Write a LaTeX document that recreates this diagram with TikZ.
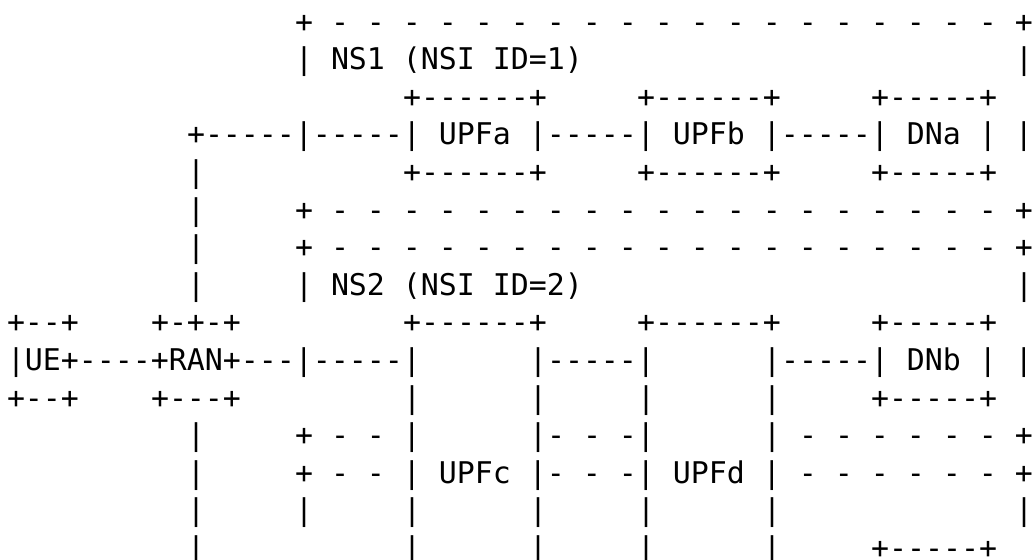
\documentclass[tikz,border=0pt]{standalone}
\usepackage{fontspec}
\setmonofont{DejaVu Sans Mono}
\frenchspacing
% one text cell = 18 units wide, one text line = 37.6 units high (1 unit = 0.5pt)
\tikzset{
  txt/.style={anchor=base west, inner sep=0pt, outer sep=0pt,
              font=\ttfamily\fontsize{14.949}{18}\selectfont, text=black}
}
% \tx{row}{column}{text}: a run of characters starting at the given cell
\newcommand\tx[3]{\node[txt] (r#1c#2) at ({7+18*#2},{32.1+37.6*(#1-1)}) {#3};}
\begin{document}
\begin{tikzpicture}[x=0.5pt,y=-0.5pt]
\fill[white] (0,0) rectangle (1034,559);
\useasboundingbox (0,0) rectangle (1034,559);

% NS1 slice
\tx{1}{16}{+ - - - - - - - - - - - - - - - - - - - +}
\tx{2}{16}{| NS1 (NSI ID=1)}
\tx{2}{56}{|}
\tx{3}{22}{+------+}
\tx{3}{35}{+------+}
\tx{3}{48}{+-----+}
\tx{4}{10}{+-----|-----| UPFa |-----| UPFb |-----| DNa | |}
\tx{5}{10}{|}
\tx{5}{22}{+------+}
\tx{5}{35}{+------+}
\tx{5}{48}{+-----+}
\tx{6}{10}{|}
\tx{6}{16}{+ - - - - - - - - - - - - - - - - - - - +}

% NS2 slice
\tx{7}{10}{|}
\tx{7}{16}{+ - - - - - - - - - - - - - - - - - - - +}
\tx{8}{10}{|}
\tx{8}{16}{| NS2 (NSI ID=2)}
\tx{8}{56}{|}
\tx{9}{0}{+--+}
\tx{9}{8}{+-+-+}
\tx{9}{22}{+------+}
\tx{9}{35}{+------+}
\tx{9}{48}{+-----+}
\tx{10}{0}{|UE+----+RAN+---|-----|}
\tx{10}{29}{|-----|}
\tx{10}{42}{|-----| DNb | |}
\tx{11}{0}{+--+}
\tx{11}{8}{+---+}
\tx{11}{22}{|}
\tx{11}{29}{|}
\tx{11}{35}{|}
\tx{11}{42}{|}
\tx{11}{48}{+-----+}
\tx{12}{10}{|}
\tx{12}{16}{+ - - |}
\tx{12}{29}{|- - -|}
\tx{12}{42}{| - - - - - - +}
\tx{13}{10}{|}
\tx{13}{16}{+ - - | UPFc |- - -| UPFd | - - - - - - +}
\tx{14}{10}{|}
\tx{14}{16}{|}
\tx{14}{22}{|}
\tx{14}{29}{|}
\tx{14}{35}{|}
\tx{14}{42}{|}
\tx{14}{56}{|}
\tx{15}{10}{|}
\tx{15}{22}{|}
\tx{15}{29}{|}
\tx{15}{35}{|}
\tx{15}{42}{|}
\tx{15}{48}{+-----+}
\end{tikzpicture}
\end{document}
